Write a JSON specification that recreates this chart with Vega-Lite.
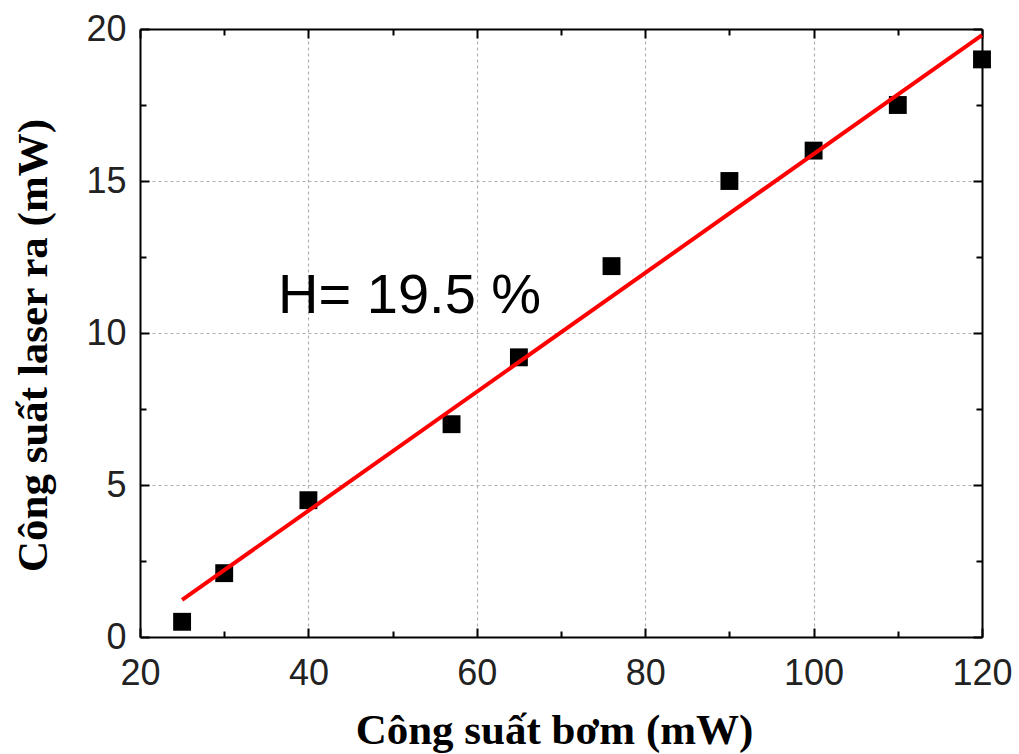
{
  "$schema": "https://vega.github.io/schema/vega-lite/v6.json",
  "width": 842,
  "height": 608,
  "autosize": {"type": "none"},
  "padding": {"left": 140, "top": 29, "right": 37, "bottom": 117},
  "background": "white",
  "config": {
    "view": {"stroke": null},
    "axis": {
      "domainColor": "black",
      "domainWidth": 2,
      "tickColor": "black",
      "tickWidth": 2,
      "labelFont": "Liberation Sans",
      "labelFontSize": 36,
      "labelColor": "#222",
      "titleFont": "Liberation Serif",
      "titleFontWeight": "bold",
      "titleFontSize": 43,
      "titleColor": "black",
      "gridColor": "#b0b0b0",
      "gridDash": [3, 3],
      "gridWidth": 1.2
    }
  },
  "datasets": {
    "pts": [
      {"pump": 25, "out": 0.5},
      {"pump": 30, "out": 2.1},
      {"pump": 40, "out": 4.5},
      {"pump": 57, "out": 7.0},
      {"pump": 65, "out": 9.2},
      {"pump": 76, "out": 12.2},
      {"pump": 90, "out": 15.0},
      {"pump": 100, "out": 16.0},
      {"pump": 110, "out": 17.5},
      {"pump": 120, "out": 19.0}
    ],
    "fit": [
      {"pump": 25, "out": 1.22},
      {"pump": 120, "out": 19.8}
    ],
    "note": [
      {"pump": 36.4, "out": 10.67, "label": "H= 19.5 %"}
    ]
  },
  "layer": [
    {
      "data": {"name": "pts"},
      "mark": {"type": "square", "color": "black", "opacity": 1, "size": 320, "clip": false},
      "encoding": {
        "x": {
          "field": "pump", "type": "quantitative",
          "scale": {"domain": [20, 120], "nice": false, "zero": false},
          "axis": {
            "orient": "bottom",
            "title": "Công suất bơm (mW)",
            "titlePadding": 18,
            "titleX": 414,
            "values": [20, 30, 40, 50, 60, 70, 80, 90, 100, 110, 120],
            "labelExpr": "datum.value % 20 === 0 ? datum.label : ''",
            "labelPadding": 28,
            "tickSize": {"condition": {"test": "datum.value % 20 === 0", "value": -9}, "value": -6},
            "grid": true,
            "gridOpacity": {"condition": {"test": "datum.value % 20 === 0 && datum.value > 20 && datum.value < 120", "value": 1}, "value": 0},
            "labelFlush": false
          }
        },
        "y": {
          "field": "out", "type": "quantitative",
          "scale": {"domain": [0, 20], "nice": false},
          "axis": {
            "orient": "left",
            "title": "Công suất laser ra (mW)",
            "titlePadding": 30,
            "titleY": 316,
            "values": [0, 2.5, 5, 7.5, 10, 12.5, 15, 17.5, 20],
            "labelExpr": "datum.value % 5 === 0 ? datum.label : ''",
            "labelPadding": 23,
            "tickSize": {"condition": {"test": "datum.value % 5 === 0", "value": -9}, "value": -6},
            "grid": true,
            "gridOpacity": {"condition": {"test": "datum.value % 5 === 0 && datum.value > 0 && datum.value < 20", "value": 1}, "value": 0},
            "labelFlush": false
          }
        }
      }
    },
    {
      "data": {"name": "fit"},
      "mark": {"type": "line", "color": "#ff0000", "strokeWidth": 4},
      "encoding": {
        "x": {
          "field": "pump", "type": "quantitative",
          "scale": {"domain": [20, 120], "nice": false, "zero": false},
          "axis": {
            "orient": "top", "title": null, "labels": false, "grid": false,
            "values": [20, 30, 40, 50, 60, 70, 80, 90, 100, 110, 120],
            "tickSize": {"condition": {"test": "datum.value % 20 === 0", "value": -9}, "value": -6}
          }
        },
        "y": {
          "field": "out", "type": "quantitative",
          "scale": {"domain": [0, 20], "nice": false},
          "axis": {
            "orient": "right", "title": null, "labels": false, "grid": false,
            "values": [0, 2.5, 5, 7.5, 10, 12.5, 15, 17.5, 20],
            "tickSize": {"condition": {"test": "datum.value % 5 === 0", "value": -9}, "value": -6}
          }
        }
      }
    },
    {
      "data": {"name": "note"},
      "mark": {"type": "text", "font": "Liberation Sans", "fontSize": 56, "align": "left", "baseline": "alphabetic", "color": "black"},
      "encoding": {
        "x": {"field": "pump", "type": "quantitative", "scale": {"domain": [20, 120], "nice": false, "zero": false}, "axis": null},
        "y": {"field": "out", "type": "quantitative", "scale": {"domain": [0, 20], "nice": false}, "axis": null},
        "text": {"field": "label"}
      }
    }
  ],
  "resolve": {"axis": {"x": "independent", "y": "independent"}}
}
